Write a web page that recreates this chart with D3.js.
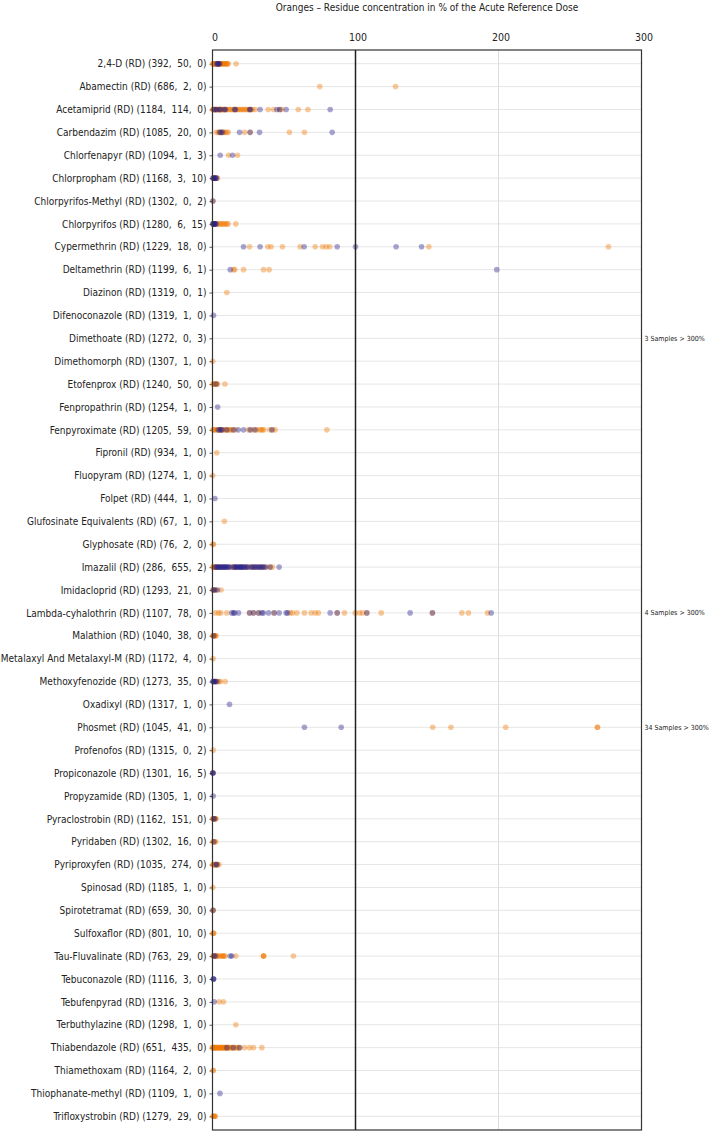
<!DOCTYPE html>
<html><head><meta charset="utf-8">
<script src="https://cdn.jsdelivr.net/npm/d3@7"></script>
<style>
body{margin:0;background:#fff;}
svg text{font-family:"DejaVu Sans Condensed","Liberation Sans",sans-serif;fill:#222;}
</style></head>
<body><svg id="chart" width="709" height="1133"></svg>
<script>
const title = "Oranges \u2013 Residue concentration in % of the Acute Reference Dose";
const categories = ["2,4-D","Abamectin","Acetamiprid","Carbendazim","Chlorfenapyr","Chlorpropham","Chlorpyrifos-Methyl","Chlorpyrifos","Cypermethrin","Deltamethrin","Diazinon","Difenoconazole","Dimethoate","Dimethomorph","Etofenprox","Fenpropathrin","Fenpyroximate","Fipronil","Fluopyram","Folpet","Glufosinate Equivalents","Glyphosate","Imazalil","Imidacloprid","Lambda-cyhalothrin","Malathion","Metalaxyl And Metalaxyl-M","Methoxyfenozide","Oxadixyl","Phosmet","Profenofos","Propiconazole","Propyzamide","Pyraclostrobin","Pyridaben","Pyriproxyfen","Spinosad","Spirotetramat","Sulfoxaflor","Tau-Fluvalinate","Tebuconazole","Tebufenpyrad","Terbuthylazine","Thiabendazole","Thiamethoxam","Thiophanate-methyl","Trifloxystrobin"];
const countFirst = [392,686,1184,1085,1094,1168,1302,1280,1229,1199,1319,1319,1272,1307,1240,1254,1205,934,1274,444,67,76,286,1293,1107,1040,1172,1273,1317,1045,1315,1301,1305,1162,1302,1035,1185,659,801,763,1116,1316,1298,651,1164,1109,1279];
const countSecond = [50,2,114,20,1,3,0,6,18,6,0,1,0,1,50,1,59,1,1,1,1,2,655,21,78,38,4,35,1,41,0,16,1,151,16,274,1,30,10,29,3,3,1,435,2,1,29];
const countThird = [0,0,0,0,3,10,2,15,0,1,1,0,3,0,0,0,0,0,0,0,0,0,2,0,0,0,0,0,0,0,2,5,0,0,0,0,0,0,0,0,0,0,0,0,0,0,0];
const xTicks = [0,100,200,300];
const noteCategories = ["Dimethoate","Lambda-cyhalothrin","Phosmet"];
const noteCounts = [3,4,34];

const orangeValues = [
 [0.2,0.5,0.8,1,1.3,1.6,2,2.4,2.8,3.2,3.6,4,4.5,5,5.5,6,6.5,7,7.5,8,8.5,9,9.5,10,10.5,11,16.5],
 [75,128],
 [0.2,0.5,1,1.5,2,2.5,3,3.5,4,4.5,5,5.5,6,6.5,7,7.5,8,9,10,11,12,13,14,15,16,17,18,19,20,21,22,23,24,25,26,27,28,30,39,42.7,47,48.5,60,66.7],
 [2.6,4,5,6,7,8,9,10,11,22.4,26.3,53.8,64.3],
 [11.2,17.5],
 [0.5,1.5,2.5,3.5],
 [0.3],
 [0.5,1.5,3,4,5,6,7,8,9,10,11,16.3],
 [25.9,38.7,41,48.9,61.3,71.8,76.9,79.5,82,151.3,276.9],
 [14.7,15.6,21.7,35.7,39.6],
 [10],
 [],
 [],
 [0.2],
 [0.3,0.8,1.3,1.8,2.3,3,3.5,8.7],
 [],
 [0.3,0.8,1.5,2.5,3.5,4.5,6,7,8,9,10,11,12,13,14,16,25,27,29,31,33,34,35,36,40,42,43.8,80],
 [3],
 [0.2],
 [],
 [8.3],
 [0.3,0.7],
 [0.2,0.6,1,1.5,2,3,5,8,13,13.5,16,20,24,26.3,28,30,33,35,38,40.3,42],
 [0.3,1,1.8,2.5,6],
 [1.9,4.2,5.8,10,25.9,28.7,32.2,43.1,54.3,56,59,64.3,69,71.8,74.1,87.2,92.3,99.8,102.8,104.9,107.9,118,153.8,174.4,179,192.3],
 [0.2,0.6,1,1.5,2,2.5],
 [0.4],
 [1.5,2.5,3.5,4.5,5.5,8.9],
 [],
 [154,166.7,205,269.2,269.2],
 [0.5],
 [0.2],
 [],
 [0.2,0.5,0.8,1.2,1.6,2,2.5],
 [0.3,0.8,1.5,2.3],
 [0.2,0.6,1,1.5,2,2.5,3,3.5,4.5],
 [0.3],
 [0.3,0.5],
 [0.3,0.6,0.9],
 [0.3,1,1.5,2,2.5,3,4,5,6,7,7.5,8,8.9,16.3,35.7,35.7,35.7,56.6],
 [],
 [4.7,7.7],
 [16.3],
 [0,0.3,0.6,1,1.3,1.6,2,2.5,3,3.5,4,4.5,5,5.5,6,6.5,7,7.5,8,8.5,9,9.5,10,10.5,11,11.5,12,13,14,15,16,17,18,19,22.4,25.9,28.7,34.5],
 [0.4,0.6],
 [],
 [0.3,0.7,1.1,1.5,2]
];
const blueValues = [
 [3,3.5,4,4.5,5],
 [],
 [1,2,3,5,5.5,8.5,9,15.5,16,26,26.5,33.3,45,47,51.5,82.3],
 [5,6,7,18.9,26.3,32.9,83.7],
 [5.4,14],
 [0.3,0.8,1.2,1.8,2.2,2.8],
 [0.3],
 [0.2,0.5,0.8,1.2,1.6,2,2.5],
 [21.7,33.3,64.1,87.2,100,128.4,146.2],
 [12.4,198.8],
 [],
 [0.7],
 [],
 [],
 [2.5],
 [3.6],
 [4,5,6,6.5,10,14.7,18,21.7,26.3,29.8,41.5],
 [],
 [],
 [1.7],
 [],
 [],
 [2,2.7,3.4,4.1,4.8,5.5,6.2,6.9,7.6,8.3,9,9.7,10.4,11.1,11.8,14.5,15.2,15.9,16.6,17.3,18,18.7,19.4,20.1,20.8,21.5,22.2,23,24,25,27,28,29,30,31,32,33,34,35,36,37,40.3,46.6],
 [0.5,1.5,3.5],
 [13.5,14.7,15.5,18.2,25.9,28.7,32.2,34.5,35.5,39.2,43.1,46.6,51.5,52.5,82.3,87.2,107.9,138.2,153.8,194.9],
 [0.8],
 [],
 [0.2,0.6,1,1.5,2,3],
 [11.9],
 [64.3,90],
 [],
 [0.2,0.3,0.4],
 [0.5],
 [0.8,1.5],
 [1],
 [2.5,3],
 [],
 [0.4],
 [],
 [1,2,12.4,13.5],
 [0.7,0.7,0.7],
 [1.2],
 [],
 [10,14.5,18.9],
 [],
 [5.2],
 []
];

const svg = d3.select("#chart");
const plotLeft = 212.5, plotRight = 641.5, plotTop = 50, plotBottom = 1130;
const x = d3.scaleLinear().domain([0,300]).range([plotLeft,plotRight]);
const y = d3.scalePoint().domain(categories).range([plotTop,plotBottom]).padding(0.6);

svg.append("text").attr("x",(plotLeft+plotRight)/2).attr("y",11).attr("text-anchor","middle")
  .attr("font-size",10).text(title);

// horizontal grid
svg.append("g").selectAll("line").data(categories).join("line")
  .attr("x1",plotLeft).attr("x2",plotRight).attr("y1",d=>y(d)).attr("y2",d=>y(d))
  .attr("stroke","#e6e6e6").attr("stroke-width",1);
// vertical 200 grid
svg.append("line").attr("x1",x(200)).attr("x2",x(200)).attr("y1",plotTop).attr("y2",plotBottom)
  .attr("stroke","#dcdcdc").attr("stroke-width",1);

// top axis
const ax = svg.append("g").attr("transform",`translate(0,${plotTop})`)
  .call(d3.axisTop(x).tickValues(xTicks).tickSize(0).tickPadding(9));
ax.select(".domain").remove();
ax.selectAll("text").attr("font-size",10.5).attr("fill","#222").attr("dx",2)
  .style("font-family",'"DejaVu Sans Condensed","Liberation Sans",sans-serif');

// left axis labels
const ay = svg.append("g").attr("transform",`translate(${plotLeft},0)`)
  .call(d3.axisLeft(y).tickSize(3).tickPadding(3)
    .tickFormat((d,i)=>`${d} (RD) (${countFirst[i]},  ${countSecond[i]},  ${countThird[i]})`));
ay.select(".domain").remove();
ay.selectAll("line").attr("stroke","#555");
ay.selectAll("text").attr("font-size",10).attr("fill","#222").style("white-space","pre")
  .style("font-family",'"DejaVu Sans Condensed","Liberation Sans",sans-serif');

// points
const pts = [];
categories.forEach((c,i)=>{
  orangeValues[i].forEach(v=>pts.push({c,v,s:"o"}));
});
categories.forEach((c,i)=>{
  blueValues[i].forEach(v=>pts.push({c,v,s:"b"}));
});
svg.append("g").selectAll("circle").data(pts).join("circle")
  .attr("cx",d=>x(d.v)).attr("cy",d=>y(d.c)).attr("r",2.8)
  .attr("fill",d=>d.s==="o"?"#f07800":"#25208a").attr("fill-opacity",0.4);

// frame
svg.append("rect").attr("x",plotLeft).attr("y",plotTop).attr("width",plotRight-plotLeft).attr("height",plotBottom-plotTop)
  .attr("fill","none").attr("stroke","#333").attr("stroke-width",1.2);
svg.append("line").attr("x1",x(100)).attr("x2",x(100)).attr("y1",plotTop).attr("y2",plotBottom)
  .attr("stroke","#222").attr("stroke-width",1.5);

// notes
svg.append("g").selectAll("text").data(noteCategories).join("text")
  .attr("x",plotRight+3).attr("y",d=>y(d)).attr("dy","0.35em").attr("font-size",7)
  .text((d,i)=>`${noteCounts[i]} Samples > 300%`);
</script></body></html>
